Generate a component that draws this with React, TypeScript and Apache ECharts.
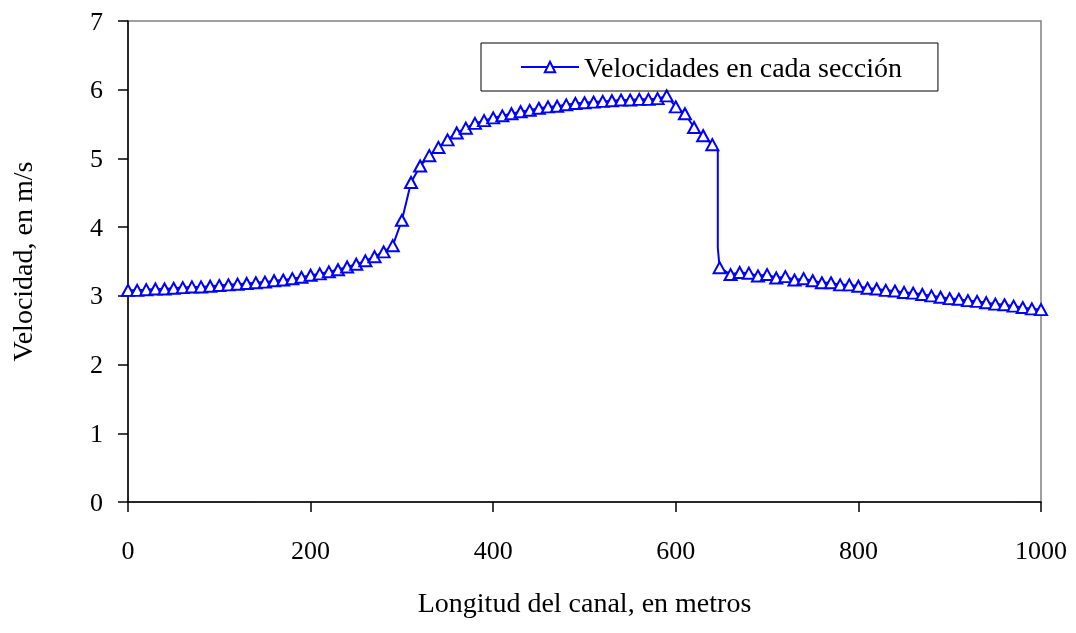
import React, { useEffect, useRef } from "react";
import * as echarts from "echarts";

const distance = [
  0, 10, 20, 30, 40, 50, 60, 70, 80, 90,
  100, 110, 120, 130, 140, 150, 160, 170, 180, 190,
  200, 210, 220, 230, 240, 250, 260, 270, 280, 290,
  300, 310, 320, 330, 340, 350, 360, 370, 380, 390,
  400, 410, 420, 430, 440, 450, 460, 470, 480, 490,
  500, 510, 520, 530, 540, 550, 560, 570, 580, 590,
  600, 610, 620, 630, 640, 648, 660, 670, 680, 690,
  700, 710, 720, 730, 740, 750, 760, 770, 780, 790,
  800, 810, 820, 830, 840, 850, 860, 870, 880, 890,
  900, 910, 920, 930, 940, 950, 960, 970, 980, 990, 1000,
];
const velocity = [
  3.08, 3.08, 3.09, 3.10, 3.10, 3.11, 3.12, 3.13, 3.13, 3.14,
  3.15, 3.16, 3.17, 3.18, 3.19, 3.20, 3.22, 3.23, 3.25, 3.27,
  3.30, 3.32, 3.35, 3.38, 3.42, 3.46, 3.51, 3.57, 3.64, 3.73,
  4.10, 4.65, 4.89, 5.04, 5.16, 5.27, 5.37, 5.44, 5.51, 5.55,
  5.59, 5.62, 5.65, 5.68, 5.70, 5.73, 5.75, 5.76, 5.78, 5.80,
  5.81, 5.82, 5.83, 5.84, 5.85, 5.85, 5.86, 5.86, 5.87, 5.91,
  5.75, 5.65, 5.45, 5.33, 5.20, 3.41, 3.31, 3.34, 3.33, 3.29,
  3.31, 3.26, 3.28, 3.23, 3.25, 3.22, 3.19, 3.19, 3.16, 3.16,
  3.14, 3.11, 3.10, 3.08, 3.07, 3.05, 3.04, 3.02, 3.00, 2.98,
  2.96, 2.95, 2.93, 2.92, 2.90, 2.88, 2.87, 2.85, 2.83, 2.81, 2.80,
];
// unmarked points on the line where the hydraulic jump occurs
const jumpDistance = [646, 646];
const jumpVelocity = [5.12, 3.7];

const yTicks = { min: 0, max: 7, interval: 1 };
const xTicks = { min: 0, max: 1000, interval: 200 };

const seriesName = "Velocidades en cada sección";
const xTitle = "Longitud del canal, en metros";
const yTitle = "Velocidad, en m/s";

export default function App() {
  const ref = useRef<HTMLDivElement>(null);
  useEffect(() => {
    if (!ref.current) return;
    const chart = echarts.init(ref.current, null, { renderer: "svg" });
    const data: any[] = [];
    distance.forEach((d, i) => {
      data.push([d, velocity[i]]);
      if (d === 640) {
        jumpDistance.forEach((jd, j) => {
          data.push({ value: [jd, jumpVelocity[j]], symbol: "none" });
        });
      }
    });
    const font = "'Liberation Serif', 'Times New Roman', serif";
    chart.setOption({
      animation: false,
      textStyle: { fontFamily: font },
      grid: {
        left: 128,
        right: 35,
        top: 21,
        bottom: 131,
        show: true,
        borderColor: "#808080",
        borderWidth: 1.5,
        backgroundColor: "transparent",
      },
      legend: {
        show: true,
        left: 481,
        top: 43,
        orient: "horizontal",
        borderColor: "#000",
        borderWidth: 1,
        padding: [10, 36, 10, 39],
        itemWidth: 58,
        itemHeight: 13,
        itemGap: 6,
        textStyle: { fontFamily: font, fontSize: 28, color: "#000" },
        data: [seriesName],
      },
      xAxis: {
        type: "value",
        min: xTicks.min,
        max: xTicks.max,
        interval: xTicks.interval,
        name: xTitle,
        nameLocation: "middle",
        nameGap: 86,
        nameTextStyle: { fontFamily: font, fontSize: 28, color: "#000" },
        axisLine: { show: true, onZero: false, lineStyle: { color: "#000", width: 1.5 } },
        axisTick: { show: true, inside: false, length: 10, lineStyle: { color: "#000", width: 1.5 } },
        axisLabel: {
          fontFamily: font,
          fontSize: 26,
          color: "#000",
          margin: 35,
          formatter: (v: number) => String(v),
        },
        splitLine: { show: false },
      },
      yAxis: {
        type: "value",
        min: yTicks.min,
        max: yTicks.max,
        interval: yTicks.interval,
        name: yTitle,
        nameLocation: "middle",
        nameGap: 92,
        nameRotate: 90,
        nameTextStyle: { fontFamily: font, fontSize: 28, color: "#000" },
        axisLine: { show: true, onZero: false, lineStyle: { color: "#000", width: 1.5 } },
        axisTick: { show: true, inside: false, length: 10, lineStyle: { color: "#000", width: 1.5 } },
        axisLabel: { fontFamily: font, fontSize: 26, color: "#000", margin: 25 },
        splitLine: { show: false },
      },
      series: [
        {
          name: seriesName,
          type: "line",
          data,
          symbol: "triangle",
          symbolSize: [12, 11],
          showAllSymbol: true,
          lineStyle: { color: "#0000FF", width: 2 },
          itemStyle: { color: "#FFFFFF", borderColor: "#0000FF", borderWidth: 2 },
          emphasis: { disabled: true },
        },
      ],
    });
    return () => chart.dispose();
  }, []);
  return (
    <div
      ref={ref}
      style={{ position: "fixed", left: 0, top: 0, width: 1076, height: 633 }}
    />
  );
}
